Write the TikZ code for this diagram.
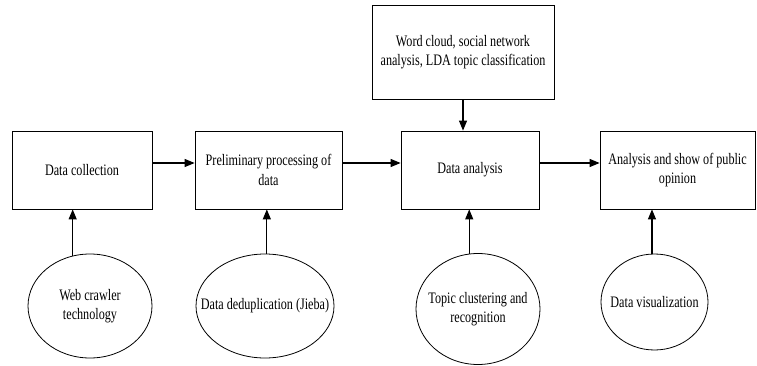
\documentclass[tikz,border=0pt]{standalone}
\usepackage{fontspec}
\setmainfont{Liberation Serif}[FakeStretch=0.76]
\usetikzlibrary{shapes}
\usetikzlibrary{arrows.meta}
\tikzset{box/.style={draw, rectangle, align=center, inner sep=0pt, line width=0.8pt},
 oval/.style={draw, ellipse, align=center, inner ysep=0pt, inner xsep=-17pt, line width=0.8pt},
 flow/.style={-{Triangle[length=10pt,width=8pt]}, line width=1.1pt},
 }

\begin{document}
\begin{tikzpicture}[x=1pt, y=-1pt, every node/.style={font=\fontsize{16}{19.5}\selectfont}]
        \useasboundingbox (0,0) rectangle (757,366);
        % main chain
        \node[box, minimum width=140pt, minimum height=78pt] (collect) at (82,170) {Data collection};
        \node[box, minimum width=147pt, minimum height=78pt] (prep) at (268.5,170) {Preliminary processing of\\data};
        \node[box, minimum width=138pt, minimum height=78pt] (analysis) at (470,170) {Data analysis};
        \node[box, minimum width=155pt, minimum height=78pt] (show) at (677.5,170) {Analysis and show of public\\opinion};
        \node[box, minimum width=182pt, minimum height=94pt] (methods) at (463,52) {Word cloud, social network\\analysis, LDA topic classification};
        % supporting techniques
        \node[oval, minimum width=124pt, minimum height=104pt] (crawler) at (90,306) {Web crawler\\technology};
        \node[oval, minimum width=138pt, minimum height=104pt] (dedup) at (265,306) {Data deduplication (Jieba)};
        \node[oval, minimum width=124pt, minimum height=111pt] (topic) at (478,309) {Topic clustering and\\recognition};
        \node[oval, minimum width=107pt, minimum height=96pt] (visual) at (654.5,302) {Data visualization};

        \draw[flow] ([yshift=7pt]collect.east) -- ([yshift=7pt]prep.west);
        \draw[flow] ([yshift=7pt]prep.east) -- ([yshift=7pt]analysis.west);
        \draw[flow] ([yshift=7pt]analysis.east) -- ([yshift=7pt]show.west);
        \draw[flow] (methods.south) -- (methods.south |- analysis.north);
        \draw[flow] (crawler.109) -- (crawler.109 |- collect.south);
        \draw[flow] (dedup.88) -- (dedup.88 |- prep.south);
        \draw[flow] (topic.99) -- (topic.99 |- analysis.south);
        \draw[flow] (visual.93) -- (visual.93 |- show.south);
    \end{tikzpicture}
\end{document}
